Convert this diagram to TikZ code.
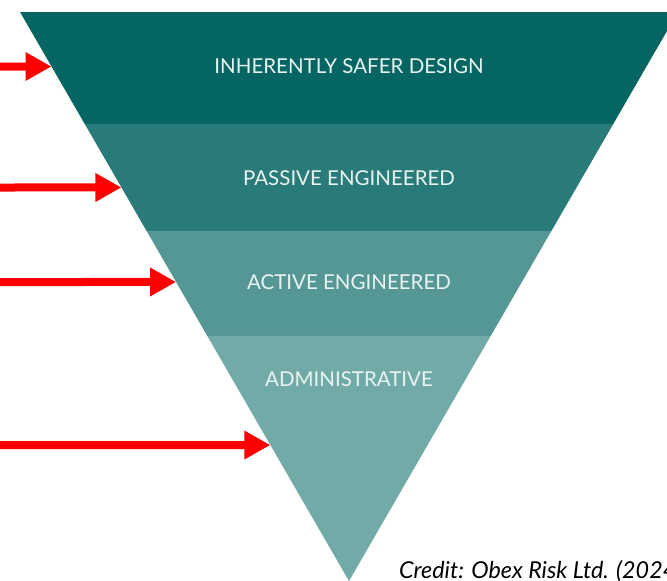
\documentclass[tikz,border=0pt]{standalone}
\usepackage{fontspec}
\setmainfont{Lato}
\usetikzlibrary{arrows.meta,calc}
\definecolor{bandA}{RGB}{5,101,98}
\definecolor{bandB}{RGB}{40,123,121}
\definecolor{bandC}{RGB}{85,151,149}
\definecolor{bandD}{RGB}{114,170,168}
\definecolor{bandtext}{RGB}{232,244,242}

\begin{document}
\begin{tikzpicture}[x=1pt,y=-1pt,
		tier/.style={text=bandtext,inner sep=0pt,font=\fontsize{20.5}{20.5}\selectfont},
		hazard/.style={red,line width=8pt,-{Triangle[length=26pt,width=27pt]}}]
	\useasboundingbox (0,0) rectangle (667,581);
	% inverted triangle, cut into four tiers
	\coordinate (tl) at (20,12);
	\coordinate (tr) at (678,12);
	\coordinate (apex) at (349,581);
	\coordinate (l1) at ($(tl)!0.1968!(apex)$); \coordinate (r1) at ($(tr)!0.1968!(apex)$);
	\coordinate (l2) at ($(tl)!0.3849!(apex)$); \coordinate (r2) at ($(tr)!0.3849!(apex)$);
	\coordinate (l3) at ($(tl)!0.5694!(apex)$); \coordinate (r3) at ($(tr)!0.5694!(apex)$);
	\fill[bandA] (tl) -- (tr) -- (r1) -- (l1) -- cycle;
	\fill[bandB] (l1) -- (r1) -- (r2) -- (l2) -- cycle;
	\fill[bandC] (l2) -- (r2) -- (r3) -- (l3) -- cycle;
	\fill[bandD] (l3) -- (r3) -- (apex) -- cycle;
	\node[tier] (inherent) at (349,66) {INHERENTLY SAFER DESIGN};
	\node[tier] (passive) at (349,178) {PASSIVE ENGINEERED};
	\node[tier] (active) at (349,282) {ACTIVE ENGINEERED};
	\node[tier] (admin) at (349,379) {ADMINISTRATIVE};
	% arrows hitting the left edge
	\foreach \i/\y/\t in {1/66.5/0.0958,2/187.5/0.3084,3/282/0.4745,4/445/0.7610}{
		\coordinate (hit\i) at ($(tl)!\t!(apex)$);
		\coordinate (from\i) at (0,\y);
		\draw[hazard] (from\i) -- (hit\i);
	}
	\node[anchor=base west,inner sep=0pt,font=\fontsize{23.3}{23.3}\selectfont\itshape] (credit) at (399,578) {Credit: Obex Risk Ltd. (2024)};
\end{tikzpicture}
\end{document}
